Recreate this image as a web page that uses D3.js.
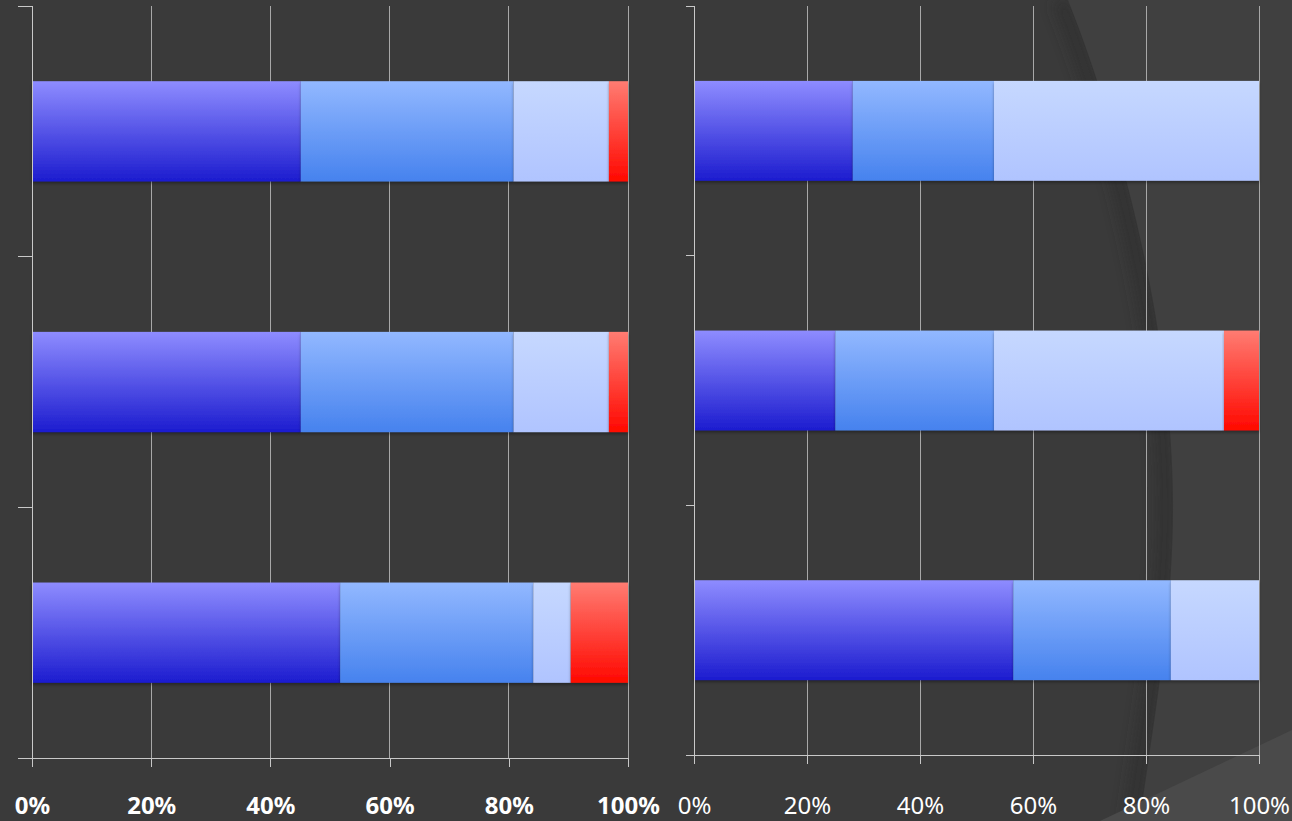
<!DOCTYPE html>
<html><head><meta charset="utf-8">
<script src="https://cdn.jsdelivr.net/npm/d3@7"></script>
<style>html,body{margin:0;padding:0;background:#3b3b3b;}svg{display:block;}</style>
</head><body>
<script>
// ---- data ----
const categories = ["Category 1", "Category 2", "Category 3"];
const seriesKeys = ["s1", "s2", "s3", "s4"];
const tickValues = [0, 0.2, 0.4, 0.6, 0.8, 1.0];
// left panel (percent shares)
const leftS1 = [45.1, 45.1, 51.7];
const leftS2 = [35.7, 35.7, 32.4];
const leftS3 = [16.0, 16.0, 6.3];
const leftS4 = [3.2, 3.2, 9.6];
// right panel
const rightS1 = [28.1, 25.0, 56.5];
const rightS2 = [25.0, 28.1, 27.9];
const rightS3 = [46.9, 40.7, 15.6];
const rightS4 = [0, 6.2, 0];

const W = 1292, H = 821;
const svg = d3.select("body").append("svg").attr("width", W).attr("height", H);
const defs = svg.append("defs");

// gradients
const grads = {
  s1: ["#8e8cff", "#1c1ccf"],
  s2: ["#92b8ff", "#4682ee"],
  s3: ["#c6d8ff", "#b0c4ff"],
  s4: ["#ff7c72", "#ff0800"]
};
Object.entries(grads).forEach(([k, c]) => {
  const g = defs.append("linearGradient").attr("id", "g_" + k)
    .attr("x1", 0).attr("y1", 0).attr("x2", 0).attr("y2", 1);
  g.append("stop").attr("offset", "0%").attr("stop-color", c[0]);
  g.append("stop").attr("offset", "100%").attr("stop-color", c[1]);
});
const blur = defs.append("filter").attr("id", "blur").attr("x", "-50%").attr("y", "-50%").attr("width", "200%").attr("height", "200%");
blur.append("feGaussianBlur").attr("stdDeviation", 7);
const shadow = defs.append("filter").attr("id", "barShadow").attr("x", "-5%").attr("y", "-10%").attr("width", "110%").attr("height", "130%");
shadow.append("feDropShadow").attr("dx", 0).attr("dy", 2).attr("stdDeviation", 1.5).attr("flood-color", "#000").attr("flood-opacity", 0.35);

// ---- background decoration ----
svg.append("rect").attr("width", W).attr("height", H).attr("fill", "#3a3a3a");
const curve = "M1068,0 C1120,130 1172,330 1173,500 C1174,620 1150,740 1140,821";
svg.append("path").attr("d", curve).attr("fill", "none").attr("stroke", "#2a2a2a")
  .attr("stroke-width", 16).attr("filter", "url(#blur)").attr("transform", "translate(-8,0)").attr("opacity", 0.55);
svg.append("path").attr("d", curve + " L1292,821 L1292,0 Z").attr("fill", "#404040");
svg.append("path").attr("d", "M1100,821 L1292,730 L1292,821 Z").attr("fill", "#4a4a4a");

// ---- panel drawing ----
function drawPanel(cfg) {
  const rows = categories.map((c, i) => ({
    cat: c, s1: cfg.data[0][i], s2: cfg.data[1][i], s3: cfg.data[2][i], s4: cfg.data[3][i]
  }));
  const stacked = d3.stack().keys(seriesKeys).offset(d3.stackOffsetExpand)(rows);
  const x = d3.scaleLinear().domain([0, 1]).range([cfg.x0, cfg.x1]);
  const y = d3.scaleBand().domain(categories).range([cfg.y0, cfg.y1]).paddingInner(0.6).paddingOuter(0.3);
  const yb = d3.scaleBand().domain(categories).range([cfg.y0, cfg.y1]);
  const g = svg.append("g");

  // gridlines
  g.selectAll(".grid").data(tickValues.slice(1)).join("line")
    .attr("x1", d => x(d)).attr("x2", d => x(d))
    .attr("y1", cfg.y0).attr("y2", cfg.y1)
    .attr("stroke", "#a8a8a8").attr("stroke-width", 1).attr("shape-rendering", "crispEdges");

  // bars
  g.selectAll(".series").data(stacked).join("g")
    .attr("fill", d => "url(#g_" + d.key + ")")
    .attr("filter", "url(#barShadow)")
    .selectAll("rect").data(d => d).join("rect")
    .attr("x", d => x(d[0])).attr("width", d => Math.max(0, x(d[1]) - x(d[0])))
    .attr("y", d => y(d.data.cat)).attr("height", y.bandwidth());

  // y axis (no labels)
  const ya = d3.axisLeft(yb).tickSize(0).tickFormat("");
  const yAxisG = g.append("g").attr("transform", `translate(${cfg.x0},0)`).call(ya);
  yAxisG.select(".domain").remove();
  yAxisG.append("line").attr("x1", 0).attr("x2", 0).attr("y1", cfg.y0).attr("y2", cfg.y1)
    .attr("stroke", "#c8c8c8").attr("shape-rendering", "crispEdges");
  const bounds = categories.map(c => yb(c)).concat([cfg.y1]);
  yAxisG.selectAll(".ytick").data(bounds).join("line")
    .attr("x1", -cfg.ytick).attr("x2", 0).attr("y1", d => d).attr("y2", d => d)
    .attr("stroke", "#c8c8c8").attr("shape-rendering", "crispEdges");

  // x axis
  const xa = d3.axisBottom(x).tickValues(tickValues).tickFormat(d3.format(".0%")).tickSize(9).tickSizeOuter(0);
  const xg = g.append("g").attr("transform", `translate(0,${cfg.y1})`).call(xa);
  xg.select(".domain").attr("stroke", "#c8c8c8").attr("shape-rendering", "crispEdges");
  xg.selectAll(".tick line").attr("stroke", "#c8c8c8").attr("shape-rendering", "crispEdges");
  xg.selectAll(".tick text")
    .attr("y", cfg.labelY - cfg.y1).attr("dy", 0)
    .attr("fill", "#ffffff")
    .attr("font-family", "'Noto Sans', 'Open Sans', sans-serif")
    .attr("font-size", 24)
    .attr("font-weight", cfg.bold ? "bold" : "normal");
}

drawPanel({ data: [leftS1, leftS2, leftS3, leftS4], x0: 32, x1: 628, y0: 6, y1: 758, ytick: 14, labelY: 814, bold: true });
drawPanel({ data: [rightS1, rightS2, rightS3, rightS4], x0: 694, x1: 1259, y0: 6, y1: 755, ytick: 8, labelY: 814, bold: false });
</script>
</body></html>
